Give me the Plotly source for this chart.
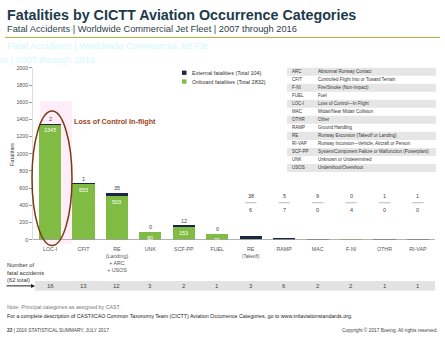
import plotly.graph_objects as go

categories = ["LOC-I", "CFIT", "RE<br>(Landing)<br>+ ARC<br>+ USOS", "UNK", "SCF-PP", "FUEL",
              "RE<br><span style='font-size:4.5px'>(Takeoff)</span>", "RAMP", "MAC", "F-NI", "OTHR", "RI-VAP"]
onboard = [1345, 653, 503, 90, 153, 71, 6, 7, 0, 4, 0, 0]
external = [2, 1, 35, 0, 12, 0, 38, 5, 9, 0, 1, 1]
accidents = [16, 13, 12, 3, 2, 1, 3, 6, 2, 2, 1, 1]
series_names = ["External fatalities (Total 104)", "Onboard fatalities (Total 2832)"]
yticks = list(range(0, 2001, 200))
glossary_abbr = ["ARC", "CFIT", "F-NI", "FUEL", "LOC-I", "MAC", "OTHR", "RAMP", "RE", "RI-VAP", "SCF-PP", "UNK", "USOS"]
glossary_desc = ["Abnormal Runway Contact", "Controlled Flight Into or Toward Terrain", "Fire/Smoke (Non-Impact)",
                 "Fuel", "Loss of Control\u2014In Flight", "Midair/Near Midair Collision", "Other",
                 "Ground Handling", "Runway Excursion (Takeoff or Landing)",
                 "Runway Incursion\u2014Vehicle, Aircraft or Person",
                 "System/Component Failure or Malfunction (Powerplant)", "Unknown or Undetermined",
                 "Undershoot/Overshoot"]

W, H = 445, 338
def px(x):
    return x / W
def py(y):
    return 1 - y / H

FONT = "Liberation Sans, Arial, sans-serif"
GREEN = "#80bb43"
NAVY = "#1c2541"
idx = list(range(len(categories)))

fig = go.Figure()
fig.add_trace(go.Bar(x=idx, y=onboard, name=series_names[1],
                     marker=dict(color=GREEN, line=dict(width=0)), width=0.66))
fig.add_trace(go.Bar(x=idx, y=external, name=series_names[0],
                     marker=dict(color=NAVY, line=dict(width=0)), width=0.66))

shapes = []
ann = []

# faint artifacts
shapes.append(dict(type="rect", xref="paper", yref="paper", x0=px(40), x1=px(72), y0=py(245), y1=py(100),
                   fillcolor="rgba(255,200,235,0.3)", line=dict(width=0), layer="below"))
ann.append(dict(x=px(5), y=py(43), xref="paper", yref="paper", xanchor="left", yanchor="middle", showarrow=False,
                text="Fatal Accidents | Worldwide Commercial Jet Fle", font=dict(size=9.5, color="#d5f8fc", family=FONT)))
ann.append(dict(x=px(-2), y=py(58), xref="paper", yref="paper", xanchor="left", yanchor="middle", showarrow=False,
                text="et | 2007 through 2016", font=dict(size=9.5, color="#d5f8fc", family=FONT)))

# title
ann.append(dict(x=px(5), y=py(12), xref="paper", yref="paper", xanchor="left", yanchor="middle", showarrow=False,
                text="<b>Fatalities by CICTT Aviation Occurrence Categories</b>",
                font=dict(size=14.3, color="#1d3a4a", family=FONT)))
ann.append(dict(x=px(5), y=py(26), xref="paper", yref="paper", xanchor="left", yanchor="middle", showarrow=False,
                text="Fatal Accidents | Worldwide Commercial Jet Fleet | 2007 through 2016",
                font=dict(size=9.3, color="#2d3e48", family=FONT)))
shapes.append(dict(type="line", xref="paper", yref="paper", x0=px(5), x1=px(440), y0=py(35), y1=py(35),
                   line=dict(color="#a9a53e", width=1)))

# custom legend
for k, (nm, col) in enumerate(zip(series_names, [NAVY, GREEN])):
    yc = 71 + k * 9
    shapes.append(dict(type="rect", xref="paper", yref="paper", x0=px(182), x1=px(186.5),
                       y0=py(yc + 2.2), y1=py(yc - 2.2), fillcolor=col, line=dict(width=0)))
    ann.append(dict(x=px(190), y=py(yc), xref="paper", yref="paper", xanchor="left", yanchor="middle",
                    showarrow=False, text=nm, font=dict(size=5.5, color="#333", family=FONT)))

# value labels
for i in idx:
    tot = onboard[i] + external[i]
    if onboard[i] >= 50:
        ann.append(dict(x=i, y=tot, xref="x", yref="y", yanchor="bottom", showarrow=False, yshift=0,
                        text=str(external[i]), font=dict(size=5.5, color="#444", family=FONT)))
        ann.append(dict(x=i, y=onboard[i], xref="x", yref="y", yanchor="top", showarrow=False, yshift=-1,
                        text=str(onboard[i]), font=dict(size=5.5, color="white", family=FONT)))
    else:
        ann.append(dict(x=i, y=503, xref="x", yref="y", yanchor="middle", showarrow=False,
                        text=str(external[i]), font=dict(size=5.5, color="#444", family=FONT)))
        ann.append(dict(x=i, y=343, xref="x", yref="y", yanchor="middle", showarrow=False,
                        text=str(onboard[i]), font=dict(size=5.5, color="#444", family=FONT)))
        shapes.append(dict(type="line", xref="x", yref="y", x0=i - 0.17, x1=i + 0.17, y0=430, y1=430,
                           line=dict(color="#888", width=0.6)))

# baseline
shapes.append(dict(type="line", xref="paper", yref="y", x0=px(33), x1=px(435), y0=0, y1=0,
                   line=dict(color="#9a9a9a", width=1.5)))

# ellipse & callout
shapes.append(dict(type="circle", xref="paper", yref="paper", x0=px(32), x1=px(72), y0=py(247), y1=py(110),
                   line=dict(color="#7a3a12", width=1.5)))
ann.append(dict(x=px(72), y=py(121), xref="paper", yref="paper", xanchor="left", yanchor="middle", showarrow=False,
                text="<b>Loss of Control In-flight</b>", font=dict(size=7.2, color="#9c4424", family=FONT)))

# glossary table
top, rh = 66, 8.15
for k, (a, d) in enumerate(zip(glossary_abbr, glossary_desc)):
    y0 = top + k * rh
    if k % 2 == 0:
        shapes.append(dict(type="rect", xref="paper", yref="paper", x0=px(287), x1=px(436),
                           y0=py(y0 + rh), y1=py(y0), fillcolor="#e6e6e6", line=dict(width=0)))
    ann.append(dict(x=px(290), y=py(y0 + rh / 2), xref="paper", yref="paper", xanchor="left", yanchor="middle",
                    showarrow=False, text=a, font=dict(size=4.5, color="#333", family=FONT)))
    ann.append(dict(x=px(316), y=py(y0 + rh / 2), xref="paper", yref="paper", xanchor="left", yanchor="middle",
                    showarrow=False, text=d, font=dict(size=4.5, color="#333", family=FONT)))

# accidents row
shapes.append(dict(type="rect", xref="paper", yref="paper", x0=px(35), x1=px(435), y0=py(293), y1=py(283),
                   fillcolor="#e3e3e3", line=dict(width=0)))
for i in idx:
    ann.append(dict(x=i, y=py(288), xref="x", yref="paper", yanchor="middle", showarrow=False,
                    text=str(accidents[i]), font=dict(size=6, color="#444", family=FONT)))
ann.append(dict(x=px(5), y=py(274), xref="paper", yref="paper", xanchor="left", yanchor="middle", showarrow=False,
                align="left", text="Number of<br>fatal accidents<br>(62 total)",
                font=dict(size=5.8, color="#333", family=FONT)))
ann.append(dict(x=px(35), y=py(288), xref="paper", yref="paper", ax=-30, ay=0, showarrow=True, text="",
                arrowhead=2, arrowsize=0.8, arrowwidth=1, arrowcolor="#222"))

# y title
ann.append(dict(x=px(7), y=py(155), xref="paper", yref="paper", textangle=-90, showarrow=False,
                text="Fatalities", font=dict(size=5.8, color="#444", family=FONT)))

# footer
ann.append(dict(x=px(5), y=py(310), xref="paper", yref="paper", xanchor="left", yanchor="middle", showarrow=False,
                text="Note: Principal categories as assigned by CAST.", font=dict(size=5.3, color="#777", family=FONT)))
ann.append(dict(x=px(5), y=py(319), xref="paper", yref="paper", xanchor="left", yanchor="middle", showarrow=False,
                text="For a complete description of CAST/ICAO Common Taxonomy Team (CICTT) Aviation Occurrence Categories, go to www.intlaviationstandards.org.",
                font=dict(size=5.3, color="#222", family=FONT)))
ann.append(dict(x=px(5), y=py(333), xref="paper", yref="paper", xanchor="left", yanchor="middle", showarrow=False,
                text="<b>22</b> | 2016 STATISTICAL SUMMARY, JULY 2017", font=dict(size=4.8, color="#444", family=FONT)))
ann.append(dict(x=px(440), y=py(333), xref="paper", yref="paper", xanchor="right", yanchor="middle", showarrow=False,
                text="Copyright \u00a9 2017 Boeing. All rights reserved.", font=dict(size=4.8, color="#444", family=FONT)))

fig.update_layout(
    width=W, height=H, margin=dict(l=0, r=0, t=0, b=0),
    paper_bgcolor="white", plot_bgcolor="white",
    barmode="stack", bargap=0.3,
    font=dict(family=FONT, color="#555"),
    showlegend=False,
    xaxis=dict(domain=[px(33), px(435)], range=[-0.51, 11.51], tickmode="array", tickvals=idx,
               ticktext=categories, tickfont=dict(size=5.3, color="#555"), showgrid=False,
               zeroline=False, showline=False, ticks="", ticklabelstandoff=5),
    yaxis=dict(domain=[py(241), py(66)], range=[0, 2000], tickmode="array", tickvals=yticks,
               tickfont=dict(size=5.3, color="#555"), showgrid=False, zeroline=False,
               showline=True, linecolor="#ddd", linewidth=0.5, ticks="outside", ticklen=3, tickcolor="#999"),
    shapes=shapes, annotations=ann,
)

fig.write_html("out.html")
